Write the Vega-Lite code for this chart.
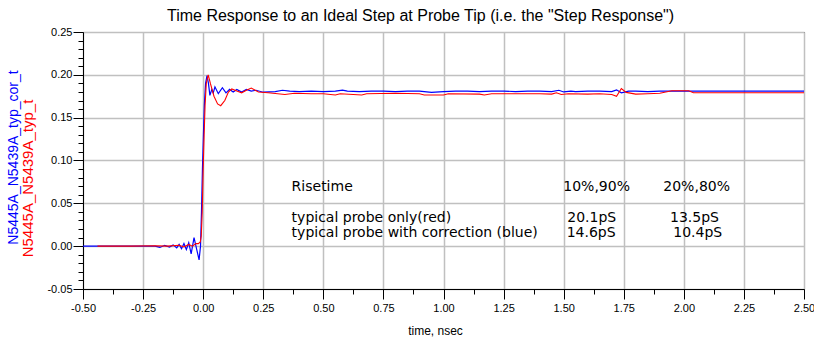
{
  "$schema": "https://vega.github.io/schema/vega-lite/v6.json",
  "width": 721,
  "height": 257,
  "autosize": {"type": "none"},
  "padding": {"left": 83, "top": 32, "right": 10, "bottom": 52},
  "background": "white",
  "config": {
    "view": {"stroke": "black", "strokeWidth": 1},
    "font": "Liberation Sans",
    "axis": {"labelFont": "Liberation Sans", "titleFont": "Liberation Sans", "labelColor": "black", "tickColor": "black", "domainColor": "black", "titleFontWeight": "normal"}
  },
  "title": {
    "text": "Time Response to an Ideal Step at Probe Tip (i.e. the \"Step Response\")",
    "font": "Liberation Sans",
    "fontSize": 16,
    "fontWeight": "normal",
    "color": "black",
    "dx": -23,
    "offset": 2
  },
  "datasets": {
    "blue": [
      {"t": -0.5, "v": 0}, {"t": -0.3, "v": 0}, {"t": -0.2, "v": 0}, {"t": -0.18, "v": -0.0015}, {"t": -0.16, "v": 0.001},
      {"t": -0.14, "v": -0.001}, {"t": -0.125, "v": 0.0015}, {"t": -0.11, "v": -0.002}, {"t": -0.1, "v": 0.002},
      {"t": -0.09, "v": -0.003}, {"t": -0.08, "v": 0.003}, {"t": -0.07, "v": -0.004}, {"t": -0.06, "v": 0.004},
      {"t": -0.05, "v": -0.009}, {"t": -0.038, "v": 0.01}, {"t": -0.017, "v": -0.016}, {"t": -0.011, "v": 0.0},
      {"t": -0.007, "v": 0.04}, {"t": -0.003, "v": 0.09}, {"t": 0.001, "v": 0.13}, {"t": 0.005, "v": 0.165},
      {"t": 0.01, "v": 0.19}, {"t": 0.016, "v": 0.199}, {"t": 0.022, "v": 0.19}, {"t": 0.028, "v": 0.176},
      {"t": 0.036, "v": 0.183}, {"t": 0.042, "v": 0.179}, {"t": 0.049, "v": 0.186}, {"t": 0.063, "v": 0.178},
      {"t": 0.08, "v": 0.185}, {"t": 0.095, "v": 0.179}, {"t": 0.11, "v": 0.183}, {"t": 0.125, "v": 0.18},
      {"t": 0.14, "v": 0.183}, {"t": 0.16, "v": 0.18}, {"t": 0.18, "v": 0.183}, {"t": 0.2, "v": 0.181},
      {"t": 0.22, "v": 0.182}, {"t": 0.25, "v": 0.1797}, {"t": 0.3, "v": 0.1805}, {"t": 0.33, "v": 0.182},
      {"t": 0.36, "v": 0.181}, {"t": 0.4, "v": 0.1805}, {"t": 0.45, "v": 0.181}, {"t": 0.5, "v": 0.1805},
      {"t": 0.55, "v": 0.181}, {"t": 0.58, "v": 0.1822}, {"t": 0.6, "v": 0.181}, {"t": 0.65, "v": 0.1805},
      {"t": 0.7, "v": 0.181}, {"t": 0.75, "v": 0.181}, {"t": 0.8, "v": 0.1805}, {"t": 0.85, "v": 0.181},
      {"t": 0.9, "v": 0.181}, {"t": 0.95, "v": 0.1795}, {"t": 1.0, "v": 0.1805}, {"t": 1.05, "v": 0.181},
      {"t": 1.1, "v": 0.181}, {"t": 1.15, "v": 0.1805}, {"t": 1.2, "v": 0.181}, {"t": 1.25, "v": 0.181},
      {"t": 1.3, "v": 0.1805}, {"t": 1.35, "v": 0.181}, {"t": 1.4, "v": 0.181}, {"t": 1.45, "v": 0.1805},
      {"t": 1.48, "v": 0.182}, {"t": 1.5, "v": 0.18}, {"t": 1.53, "v": 0.181}, {"t": 1.55, "v": 0.1805},
      {"t": 1.6, "v": 0.181}, {"t": 1.65, "v": 0.181}, {"t": 1.7, "v": 0.1805}, {"t": 1.72, "v": 0.1825},
      {"t": 1.74, "v": 0.179}, {"t": 1.77, "v": 0.181}, {"t": 1.8, "v": 0.181}, {"t": 1.85, "v": 0.1805},
      {"t": 1.9, "v": 0.181}, {"t": 2.0, "v": 0.181}, {"t": 2.1, "v": 0.181}, {"t": 2.2, "v": 0.181},
      {"t": 2.3, "v": 0.181}, {"t": 2.4, "v": 0.181}, {"t": 2.5, "v": 0.181}
    ],
    "red": [
      {"t": -0.44, "v": 0}, {"t": -0.3, "v": 0}, {"t": -0.2, "v": 0.0005}, {"t": -0.15, "v": 0}, {"t": -0.1, "v": 0.001},
      {"t": -0.08, "v": -0.001}, {"t": -0.06, "v": 0.002}, {"t": -0.045, "v": 0.0}, {"t": -0.03, "v": 0.003},
      {"t": -0.02, "v": 0.003}, {"t": -0.012, "v": 0.005}, {"t": -0.008, "v": 0.012}, {"t": -0.004, "v": 0.04},
      {"t": 0.0, "v": 0.09}, {"t": 0.004, "v": 0.13}, {"t": 0.008, "v": 0.165}, {"t": 0.013, "v": 0.19},
      {"t": 0.021, "v": 0.2}, {"t": 0.03, "v": 0.19}, {"t": 0.045, "v": 0.175}, {"t": 0.06, "v": 0.166},
      {"t": 0.073, "v": 0.164}, {"t": 0.09, "v": 0.17}, {"t": 0.105, "v": 0.18}, {"t": 0.119, "v": 0.1835},
      {"t": 0.14, "v": 0.181}, {"t": 0.16, "v": 0.179}, {"t": 0.18, "v": 0.182}, {"t": 0.2, "v": 0.1845},
      {"t": 0.23, "v": 0.18}, {"t": 0.27, "v": 0.179}, {"t": 0.34, "v": 0.177}, {"t": 0.38, "v": 0.1785},
      {"t": 0.45, "v": 0.178}, {"t": 0.5, "v": 0.178}, {"t": 0.55, "v": 0.1765}, {"t": 0.57, "v": 0.178},
      {"t": 0.66, "v": 0.1765}, {"t": 0.68, "v": 0.178}, {"t": 0.8, "v": 0.1785}, {"t": 0.9, "v": 0.178},
      {"t": 0.92, "v": 0.1765}, {"t": 1.0, "v": 0.1765}, {"t": 1.02, "v": 0.178}, {"t": 1.15, "v": 0.1775},
      {"t": 1.17, "v": 0.1765}, {"t": 1.2, "v": 0.178}, {"t": 1.3, "v": 0.178}, {"t": 1.4, "v": 0.178},
      {"t": 1.45, "v": 0.1775}, {"t": 1.47, "v": 0.179}, {"t": 1.49, "v": 0.177}, {"t": 1.52, "v": 0.178},
      {"t": 1.6, "v": 0.1775}, {"t": 1.65, "v": 0.178}, {"t": 1.7, "v": 0.177}, {"t": 1.72, "v": 0.175},
      {"t": 1.74, "v": 0.184}, {"t": 1.76, "v": 0.1795}, {"t": 1.8, "v": 0.1775}, {"t": 1.85, "v": 0.178},
      {"t": 1.9, "v": 0.1785}, {"t": 1.95, "v": 0.1815}, {"t": 2.02, "v": 0.1815}, {"t": 2.04, "v": 0.179},
      {"t": 2.5, "v": 0.179}
    ],
    "notes": [
      {"t": 0.368, "v": 0.0694, "label": "Risetime"},
      {"t": 1.4985, "v": 0.0694, "label": "10%,90%"},
      {"t": 1.9146, "v": 0.0694, "label": "20%,80%"},
      {"t": 0.368, "v": 0.0332, "label": "typical probe only(red)"},
      {"t": 0.368, "v": 0.0157, "label": "typical probe with correction (blue)"},
      {"t": 1.515, "v": 0.0332, "label": "20.1pS"},
      {"t": 1.9425, "v": 0.0332, "label": "13.5pS"},
      {"t": 1.5126, "v": 0.0157, "label": "14.6pS"},
      {"t": 1.956, "v": 0.0157, "label": "10.4pS"}
    ]
  },
  "layer": [
    {
      "data": {"name": "blue"},
      "mark": {"type": "line", "color": "#0000ff", "strokeWidth": 1.2},
      "encoding": {
        "x": {
          "field": "t", "type": "quantitative",
          "scale": {"domain": [-0.5, 2.5], "nice": false, "zero": false},
          "axis": {
            "orient": "bottom",
            "values": [-0.5, -0.25, 0, 0.25, 0.5, 0.75, 1, 1.25, 1.5, 1.75, 2, 2.25, 2.5],
            "labelExpr": "replace(format(datum.value, '.2f'), '\u2212', '-')",
            "labelFontSize": 11, "labelFlush": false, "labelOverlap": false, "labelBound": false, "labelPadding": 3,
            "tickSize": 10, "grid": true, "gridColor": "#c0c0c0", "gridWidth": 1.5,
            "title": "time, nsec", "titleFontSize": 12, "titleColor": "black",
            "titleX": 352, "titleY": 41, "titleBaseline": "middle", "titleAlign": "center"
          }
        },
        "y": {
          "field": "v", "type": "quantitative",
          "scale": {"domain": [-0.05, 0.25], "nice": false, "zero": false},
          "axis": {
            "orient": "left",
            "values": [-0.05, 0, 0.05, 0.1, 0.15, 0.2, 0.25],
            "labelExpr": "replace(format(datum.value, '.2f'), '\u2212', '-')",
            "labelFontSize": 11, "labelFlush": false, "labelOverlap": false, "labelBound": false, "labelPadding": 1,
            "tickSize": 10, "grid": true, "gridColor": "#c0c0c0", "gridWidth": 1.5,
            "title": "N5445A_N5439A_typ_cor_t", "titleColor": "#0000ff", "titleFontSize": 14,
            "titleAngle": -90, "titleX": -70, "titleY": 125, "titleBaseline": "middle", "titleAlign": "center"
          }
        }
      }
    },
    {
      "data": {"name": "red"},
      "mark": {"type": "line", "color": "#ff0000", "strokeWidth": 1.1},
      "encoding": {
        "x": {
          "field": "t", "type": "quantitative",
          "axis": {
            "orient": "bottom",
            "values": [-0.375, -0.125, 0.125, 0.375, 0.625, 0.875, 1.125, 1.375, 1.625, 1.875, 2.125, 2.375],
            "labels": false, "domain": false, "grid": false, "tickSize": 5, "title": null
          }
        },
        "y": {
          "field": "v", "type": "quantitative",
          "axis": {
            "orient": "left",
            "values": [-0.04, -0.03, -0.02, -0.01, 0.01, 0.02, 0.03, 0.04, 0.06, 0.07, 0.08, 0.09, 0.11, 0.12, 0.13, 0.14, 0.16, 0.17, 0.18, 0.19, 0.21, 0.22, 0.23, 0.24],
            "labels": false, "domain": false, "grid": false, "tickSize": 5,
            "title": "N5445A_N5439A_typ_t", "titleColor": "#ff0000", "titleFontSize": 15,
            "titleAngle": -90, "titleX": -56, "titleY": 146, "titleBaseline": "middle", "titleAlign": "center"
          }
        }
      }
    },
    {
      "data": {"name": "notes"},
      "mark": {"type": "text", "align": "left", "baseline": "middle", "font": "DejaVu Sans", "fontSize": 14, "color": "black"},
      "encoding": {
        "x": {"field": "t", "type": "quantitative", "axis": null},
        "y": {"field": "v", "type": "quantitative", "axis": null},
        "text": {"field": "label"}
      }
    }
  ],
  "resolve": {"axis": {"x": "independent", "y": "independent"}}
}
